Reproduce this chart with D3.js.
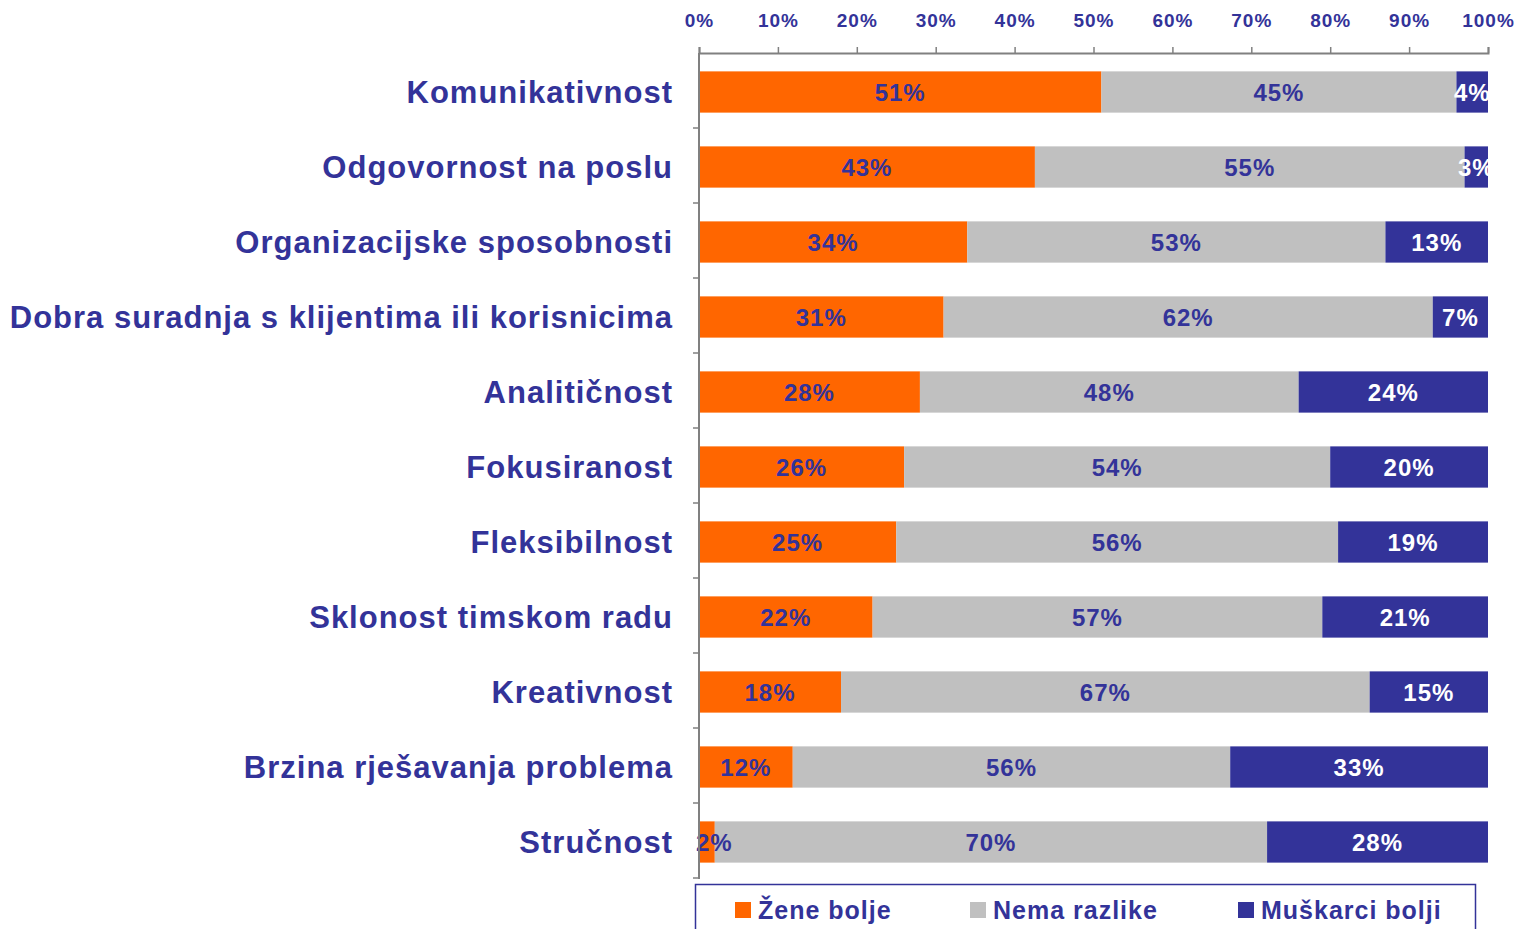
<!DOCTYPE html>
<html>
<head>
<meta charset="utf-8">
<script src="https://cdn.jsdelivr.net/npm/d3@7"></script>
<style>
  html, body { margin: 0; padding: 0; background: #fff; }
  svg { display: block; }
  text { font-family: "Liberation Sans", Arial, sans-serif; font-weight: bold; }
</style>
</head>
<body>
<svg id="chart" width="1519" height="929"></svg>
<script>
const categories = [
  "Komunikativnost",
  "Odgovornost na poslu",
  "Organizacijske sposobnosti",
  "Dobra suradnja s klijentima ili korisnicima",
  "Analitičnost",
  "Fokusiranost",
  "Fleksibilnost",
  "Sklonost timskom radu",
  "Kreativnost",
  "Brzina rješavanja problema",
  "Stručnost"
];
const seriesNames = ["Žene bolje", "Nema razlike", "Muškarci bolji"];
const zeneBolje     = [51, 43, 34, 31, 28, 26, 25, 22, 18, 12, 2];
const nemaRazlike   = [45, 55, 53, 62, 48, 54, 56, 57, 67, 56, 70];
const muskarciBolji = [4, 3, 13, 7, 24, 20, 19, 21, 15, 33, 28];
const tickValues = [0, 0.1, 0.2, 0.3, 0.4, 0.5, 0.6, 0.7, 0.8, 0.9, 1];

const colors = ["#FF6600", "#C0C0C0", "#333399"];
const labelColors = ["#333399", "#333399", "#FFFFFF"];
const textColor = "#333399";
const axisColor = "#808080";

const rows = categories.map((c, i) => ({
  cat: c,
  [seriesNames[0]]: zeneBolje[i],
  [seriesNames[1]]: nemaRazlike[i],
  [seriesNames[2]]: muskarciBolji[i]
}));

const svg = d3.select("#chart");
const pLeft = 699, pRight = 1488, pTop = 53, pBottom = 878;

const x = d3.scaleLinear().domain([0, 1]).range([pLeft, pRight]);
const y = d3.scaleBand().domain(categories).range([pTop, pBottom])
  .paddingInner(0.45).paddingOuter(0.225);

const stack = d3.stack().keys(seriesNames).offset(d3.stackOffsetExpand);
const stacked = stack(rows);

// clip for labels (right side)
svg.append("defs").append("clipPath").attr("id", "plotClip")
  .append("rect").attr("x", 0).attr("y", 0).attr("width", pRight).attr("height", 929);

// bars
const groups = svg.append("g").selectAll("g").data(stacked).join("g")
  .attr("fill", (d, i) => colors[i]);
groups.selectAll("rect").data(d => d).join("rect")
  .attr("x", d => x(d[0]))
  .attr("y", d => y(d.data.cat) + 1.5)
  .attr("width", d => x(d[1]) - x(d[0]))
  .attr("height", y.bandwidth());

// value labels
const labelG = svg.append("g").attr("clip-path", "url(#plotClip)");
stacked.forEach((s, si) => {
  labelG.append("g").selectAll("text").data(s).join("text")
    .attr("x", d => (x(d[0]) + x(d[1])) / 2)
    .attr("y", d => y(d.data.cat) + 1.5 + y.bandwidth() / 2)
    .attr("dy", "0.36em")
    .attr("text-anchor", "middle")
    .attr("font-size", 24)
    .attr("letter-spacing", 1)
    .attr("fill", labelColors[si])
    .text(d => d.data[s.key] + "%")
    .each(function() {
      // keep labels from spilling left past the axis
      const w = this.getComputedTextLength();
      const cx = +this.getAttribute("x");
      if (cx - w / 2 < pLeft - 3) this.setAttribute("x", pLeft - 3 + w / 2);
    });
});

// top axis
const xAxis = d3.axisTop(x).tickValues(tickValues).tickSize(6)
  .tickFormat(d3.format(".0%"));
const gx = svg.append("g").attr("transform", `translate(0,${pTop})`).call(xAxis);
gx.select(".domain").attr("stroke", axisColor).attr("stroke-width", 2);
gx.selectAll(".tick line").attr("stroke", axisColor).attr("stroke-width", 1.5);
gx.selectAll(".tick text")
  .attr("y", -26)
  .attr("font-size", 19)
  .attr("letter-spacing", 1)
  .attr("fill", textColor)
  .style("font-family", "'Liberation Sans', Arial, sans-serif")
  .style("font-weight", "bold");

// left axis (line + ticks at category boundaries)
svg.append("line")
  .attr("x1", pLeft).attr("x2", pLeft).attr("y1", pTop).attr("y2", pBottom + 1)
  .attr("stroke", axisColor).attr("stroke-width", 2);
const boundaries = categories.map(c => y(c) - y.step() * y.paddingInner() / 2)
  .concat([pBottom]);
svg.append("g").selectAll("line").data(boundaries.slice(1)).join("line")
  .attr("x1", pLeft - 6).attr("x2", pLeft)
  .attr("y1", d => d).attr("y2", d => d)
  .attr("stroke", axisColor).attr("stroke-width", 1.5);

// category labels
svg.append("g").selectAll("text").data(categories).join("text")
  .attr("x", 673)
  .attr("y", d => y(d) + 1.5 + y.bandwidth() / 2)
  .attr("dy", "0.36em")
  .attr("text-anchor", "end")
  .attr("font-size", 31)
  .attr("letter-spacing", 1)
  .attr("fill", textColor)
  .text(d => d);

// legend
const legend = svg.append("g");
legend.append("rect")
  .attr("x", 695.5).attr("y", 884.5).attr("width", 780).attr("height", 60)
  .attr("fill", "#fff").attr("stroke", "#333399").attr("stroke-width", 1.5);
const legendX = [735, 970, 1238];
seriesNames.forEach((name, i) => {
  legend.append("rect")
    .attr("x", legendX[i]).attr("y", 902).attr("width", 16).attr("height", 16)
    .attr("fill", colors[i]);
  legend.append("text")
    .attr("x", legendX[i] + 23).attr("y", 910)
    .attr("dy", "0.36em")
    .attr("font-size", 25)
    .attr("letter-spacing", 1)
    .attr("fill", textColor)
    .text(name);
});
</script>
</body>
</html>
